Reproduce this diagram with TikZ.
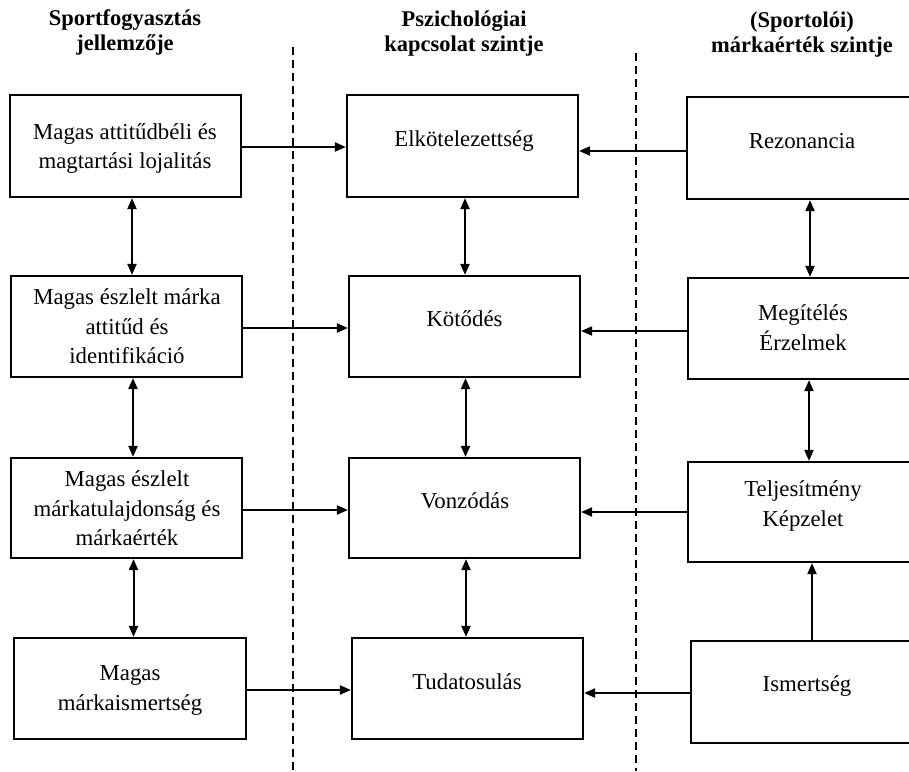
\documentclass[tikz,border=0pt]{standalone}
\usepackage{fontspec}
\setmainfont{Liberation Serif}
\usetikzlibrary{arrows.meta}
\begin{document}
\begin{tikzpicture}[x=1pt,y=-1pt,
  box/.style={draw, line width=2.2pt, rectangle, inner sep=0pt, minimum width=231pt, minimum height=101pt},
  lbl/.style={align=center, inner sep=0pt, font=\fontsize{22.8}{29.5}\selectfont},
  hdr/.style={align=center, inner sep=0pt, font=\fontsize{22.5}{25.5}\selectfont\bfseries},
  arr/.style={line width=2pt, -{Triangle[length=11pt,width=9pt]}},
  dbl/.style={line width=2pt, {Triangle[length=11pt,width=9pt]}-{Triangle[length=11pt,width=9pt]}},
  divider/.style={line width=2.2pt, dash pattern=on 8pt off 5pt}]
\path[use as bounding box] (0,0) rectangle (909,771);
\clip (0,0) rectangle (909,771);
\fill[white] (0,0) rectangle (909,771);

% headers
\node[hdr] (h1) at (125,33) {\strut Sportfogyasztás\\\strut jellemzője};
\node[hdr] (h2) at (464,34) {\strut Pszichológiai\\\strut kapcsolat szintje};
\node[hdr] (h3) at (802,35) {\strut (Sportolói)\\\strut márkaérték szintje};

% dividers
\coordinate (d1t) at (293,47);
\coordinate (d1b) at (293,771);
\coordinate (d2t) at (636,53);
\coordinate (d2b) at (636,771);
\draw[divider] (d1t) -- (d1b);
\draw[divider] (d2t) -- (d2b);

% boxes
\node[box, minimum height=102pt] (L1) at (125.5,146) {};
\node[box] (L2) at (126.5,326.5) {};
\node[box, minimum height=100pt] (L3) at (126.5,508) {};
\node[box, minimum width=232pt] (L4) at (130,688.5) {};
\node[box, minimum height=102pt] (C1) at (462.5,146) {};
\node[box] (C2) at (464.5,326.5) {};
\node[box, minimum height=100pt] (C3) at (464.5,508) {};
\node[box] (C4) at (467.5,688.5) {};
\node[box, minimum height=102pt] (R1) at (802.5,148) {};
\node[box] (R2) at (803.5,328.5) {};
\node[box, minimum height=100pt] (R3) at (803.5,512) {};
\node[box, minimum height=102pt] (R4) at (806.5,692) {};

% texts
\node[lbl] (tL1) at (125,148) {\strut Magas attitűdbéli és\\\strut magtartási lojalitás};
\node[lbl] (tL2) at (127,328.5) {\strut Magas észlelt márka\\\strut attitűd és\\\strut identifikáció};
\node[lbl] (tL3) at (127,510.5) {\strut Magas észlelt\\\strut márkatulajdonság és\\\strut márkaérték};
\node[lbl] (tL4) at (130,689.5) {\strut Magas\\\strut márkaismertség};
\node[lbl] (tC1) at (464,141) {\strut Elkötelezettség};
\node[lbl] (tC2) at (464.5,321) {\strut Kötődés};
\node[lbl] (tC3) at (465,503) {\strut Vonzódás};
\node[lbl] (tC4) at (467,684) {\strut Tudatosulás};
\node[lbl] (tR1) at (802,143) {\strut Rezonancia};
\node[lbl] (tR2) at (803,329.5) {\strut Megítélés\\\strut Érzelmek};
\node[lbl] (tR3) at (803,505.5) {\strut Teljesítmény\\\strut Képzelet};
\node[lbl] (tR4) at (807,686) {\strut Ismertség};

% horizontal arrows
\draw[arr] ([yshift=-1pt]L1.east) -- ([yshift=-1pt]L1.east -| C1.west);
\draw[arr] ([yshift=-3pt]R1.west) -- ([yshift=-3pt]R1.west -| C1.east);
\draw[arr] ([yshift=-1.5pt]L2.east) -- ([yshift=-1.5pt]L2.east -| C2.west);
\draw[arr] ([yshift=-2.5pt]R2.west) -- ([yshift=-2.5pt]R2.west -| C2.east);
\draw[arr] ([yshift=-2pt]L3.east) -- ([yshift=-2pt]L3.east -| C3.west);
\draw[arr] (R3.west) -- (R3.west -| C3.east);
\draw[arr] ([yshift=-1.5pt]L4.east) -- ([yshift=-1.5pt]L4.east -| C4.west);
\draw[arr] ([yshift=-1pt]R4.west) -- ([yshift=-1pt]R4.west -| C4.east);

% vertical arrows
\draw[dbl] ([xshift=6.5pt]L1.south) -- ([xshift=6.5pt]L1.south |- L2.north);
\draw[dbl] ([xshift=6.5pt]L2.south) -- ([xshift=6.5pt]L2.south |- L3.north);
\draw[dbl] ([xshift=7pt]L3.south) -- ([xshift=7pt]L3.south |- L4.north);
\draw[dbl] ([xshift=2.5pt]C1.south) -- ([xshift=2.5pt]C1.south |- C2.north);
\draw[dbl] ([xshift=1pt]C2.south) -- ([xshift=1pt]C2.south |- C3.north);
\draw[dbl] ([xshift=1.5pt]C3.south) -- ([xshift=1.5pt]C3.south |- C4.north);
\draw[dbl] ([xshift=7.5pt]R1.south) -- ([xshift=7.5pt]R1.south |- R2.north);
\draw[dbl] ([xshift=5.5pt]R2.south) -- ([xshift=5.5pt]R2.south |- R3.north);
\draw[arr] ([xshift=5.5pt]R4.north) -- ([xshift=5.5pt]R4.north |- R3.south);
\end{tikzpicture}
\end{document}
